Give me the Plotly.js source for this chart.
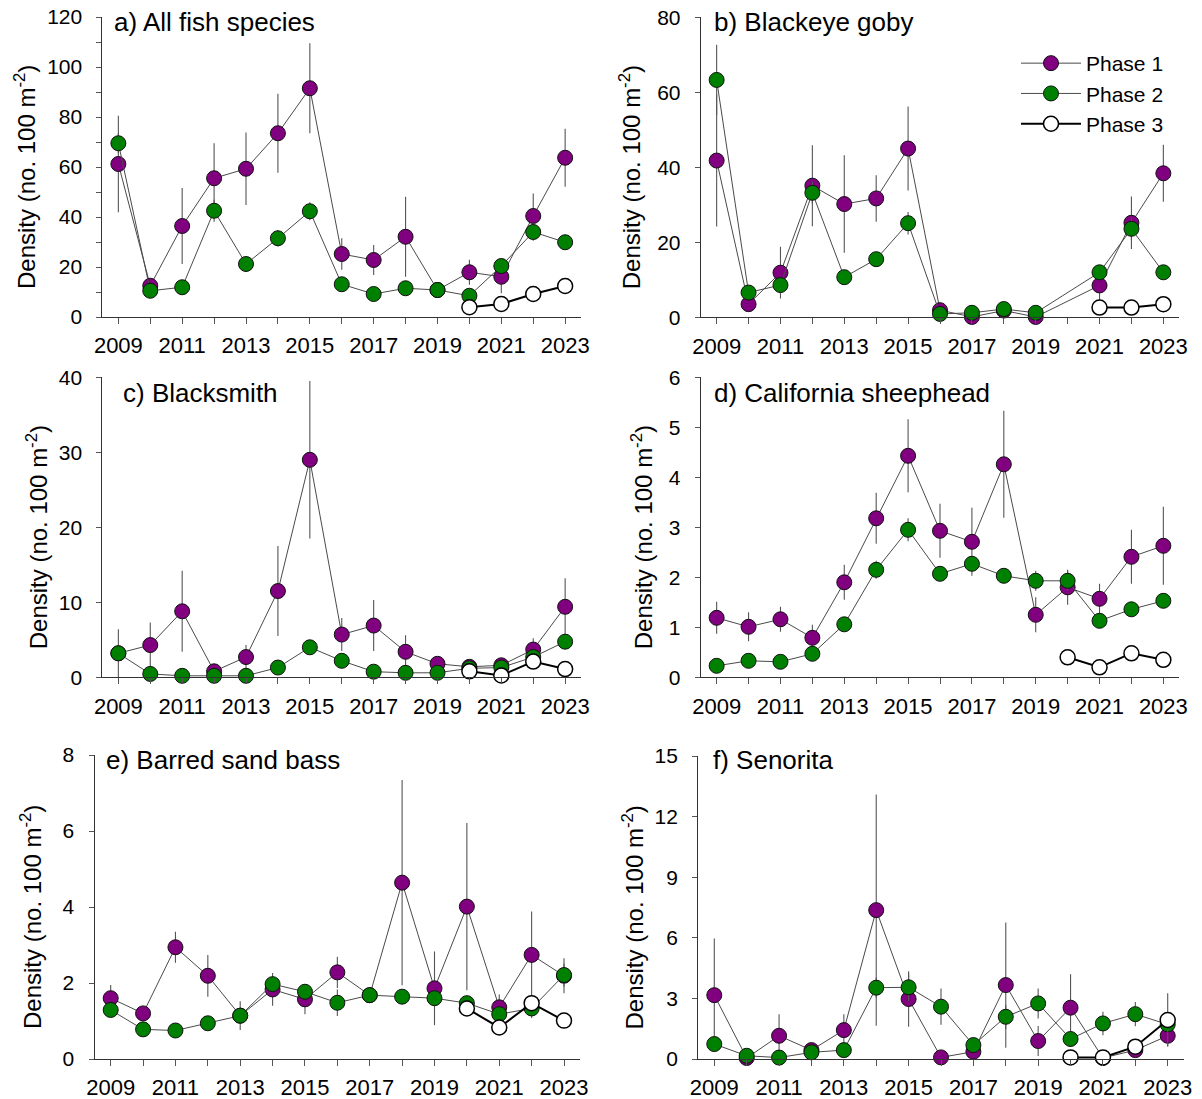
<!DOCTYPE html>
<html>
<head>
<meta charset="utf-8">
<script src="https://cdn.plot.ly/plotly-3.0.1.min.js"></script>
<style>
html,body{margin:0;padding:0;background:#fff;}
#chart{width:1202px;height:1099px;}
</style>
</head>
<body>
<div id="chart"></div>
<script>
// ---------------- DATA ----------------
const years = [2009, 2010, 2011, 2012, 2013, 2014, 2015, 2016, 2017, 2018, 2019, 2020, 2021, 2022, 2023];
const phase3Years = [2020, 2021, 2022, 2023];
const phase3YearsGoby = [2021, 2022, 2023];
const seriesNames = ["Phase 1", "Phase 2", "Phase 3"];
const panelTitles = ["a) All fish species", "b) Blackeye goby", "c) Blacksmith", "d) California sheephead", "e) Barred sand bass", "f) Senorita"];

// a) All fish species
const allP1 = [61.2, 12.5, 36.4, 55.5, 59.3, 73.5, 91.5, 25.2, 22.8, 32.1, 10.8, 17.9, 16.1, 40.4, 63.7];
const allP1Se = [19.3, 1.5, 15.2, 14, 14.5, 15.8, 18, 6.3, 6, 16, 1.2, 5, 6.6, 9, 11.6];
const allP2 = [69.5, 10.5, 11.9, 42.5, 21.2, 31.5, 42.3, 13.1, 9.2, 11.5, 10.8, 8.5, 20.4, 34.0, 29.9];
const allP2Se = [4, 1, 1, 4.4, 2, 3.3, 3.6, 1.5, 1, 1, 1, 1, 2, 3.5, 3];
const allP3 = [3.9, 5.2, 9.2, 12.4];
const allP3Se = [0.8, 0.8, 0.8, 1];

// b) Blackeye goby (no 2020 survey)
const gobyP1 = [41.8, 3.5, 11.9, 35.1, 30.2, 31.7, 45.0, 1.9, 0.1, 1.8, 0.1, null, 8.5, 25.2, 38.4];
const gobyP1Se = [17.6, 1, 6.9, 10.8, 13, 6.2, 11.2, 0.5, 0.1, 0.5, 0.1, null, 4.7, 7, 7.6];
const gobyP2 = [63.3, 6.6, 8.6, 33.2, 10.7, 15.5, 25.1, 0.9, 1.2, 2.2, 1.2, null, 12, 23.6, 12];
const gobyP2Se = [9.4, 1, 2, 3, 1.5, 1.5, 3, 0.5, 0.5, 0.5, 0.5, null, 1.5, 3, 1.5];
const gobyP3 = [2.6, 2.6, 3.5];
const gobyP3Se = [0.5, 0.5, 0.5];

// c) Blacksmith
const smithP1 = [3.2, 4.3, 8.8, 0.8, 2.7, 11.5, 29.0, 5.7, 6.9, 3.4, 1.8, 1.4, 1.6, 3.7, 9.4];
const smithP1Se = [3.2, 3, 5.4, 0.5, 1.6, 6, 10.5, 2.2, 3.4, 2.2, 0.5, 0.3, 0.3, 1.5, 3.8];
const smithP2 = [3.2, 0.45, 0.2, 0.2, 0.2, 1.3, 4.0, 2.2, 0.75, 0.6, 0.6, 1.2, 1.3, 2.7, 4.75];
const smithP2Se = [1, 0.2, 0.1, 0.1, 0.1, 0.3, 0.5, 0.4, 0.2, 0.2, 0.2, 0.2, 0.2, 0.5, 1];
const smithP3 = [0.8, 0.25, 2.1, 1.1];
const smithP3Se = [0.2, 0.1, 0.3, 0.2];

// d) California sheephead
const sheepP1 = [1.19, 1.01, 1.16, 0.79, 1.9, 3.18, 4.43, 2.93, 2.71, 4.26, 1.25, 1.8, 1.57, 2.41, 2.63];
const sheepP1Se = [0.32, 0.29, 0.25, 0.26, 0.35, 0.51, 0.73, 0.54, 0.68, 1.07, 0.35, 0.35, 0.3, 0.54, 0.78];
const sheepP2 = [0.23, 0.33, 0.31, 0.47, 1.06, 2.15, 2.95, 2.07, 2.27, 2.03, 1.93, 1.93, 1.13, 1.36, 1.53];
const sheepP2Se = [0.05, 0.05, 0.05, 0.08, 0.1, 0.18, 0.23, 0.1, 0.15, 0.15, 0.2, 0.2, 0.1, 0.15, 0.1];
const sheepP3 = [0.4, 0.2, 0.48, 0.35];
const sheepP3Se = [0.05, 0.05, 0.05, 0.05];

// e) Barred sand bass
const bassP1 = [1.6, 1.2, 2.94, 2.19, 1.14, 1.83, 1.57, 2.28, 1.68, 4.64, 1.86, 4.01, 1.36, 2.74, 2.19];
const bassP1Se = [0.35, 0.1, 0.41, 0.55, 0.38, 0.43, 0.39, 0.41, 0.15, 2.7, 0.97, 2.2, 0.34, 1.14, 0.46];
const bassP2 = [1.29, 0.78, 0.75, 0.94, 1.14, 1.97, 1.77, 1.48, 1.68, 1.64, 1.6, 1.47, 1.18, 1.33, 2.21];
const bassP2Se = [0.1, 0.05, 0.05, 0.1, 0.15, 0.2, 0.15, 0.35, 0.1, 0.1, 0.1, 0.1, 0.15, 0.25, 0.3];
const bassP3 = [1.33, 0.83, 1.47, 1.01];
const bassP3Se = [0.1, 0.1, 0.2, 0.05];

// f) Senorita
const senP1 = [3.16, 0.05, 1.15, 0.44, 1.43, 7.37, 2.97, 0.08, 0.36, 3.66, 0.89, 2.54, 0.05, 0.44, 1.15];
const senP1Se = [2.8, 0.05, 1.06, 0.2, 0.78, 5.72, 1.37, 0.05, 0.2, 3.1, 0.74, 1.66, 0.05, 0.2, 0.5];
const senP2 = [0.74, 0.16, 0.07, 0.33, 0.44, 3.53, 3.55, 2.59, 0.69, 2.09, 2.75, 0.99, 1.76, 2.22, 1.71];
const senP2Se = [0.3, 0.1, 0.05, 0.1, 0.3, 0.5, 0.7, 0.9, 0.2, 0.6, 0.74, 0.4, 0.58, 0.6, 0.3];
const senP3 = [0.08, 0.08, 0.61, 1.93];
const senP3Se = [0.05, 0.05, 0.2, 1.32];

// y-axis scales per panel
const yMax = [120, 80, 40, 6, 8, 15];
const yDtick = [20, 20, 10, 1, 2, 3];
const yMinor = [10, null, null, null, null, null];

// ---------------- BUILD ----------------
const panels = [
  {p1: allP1, s1: allP1Se, p2: allP2, s2: allP2Se, p3x: phase3Years, p3: allP3, s3: allP3Se},
  {p1: gobyP1, s1: gobyP1Se, p2: gobyP2, s2: gobyP2Se, p3x: phase3YearsGoby, p3: gobyP3, s3: gobyP3Se},
  {p1: smithP1, s1: smithP1Se, p2: smithP2, s2: smithP2Se, p3x: phase3Years, p3: smithP3, s3: smithP3Se},
  {p1: sheepP1, s1: sheepP1Se, p2: sheepP2, s2: sheepP2Se, p3x: phase3Years, p3: sheepP3, s3: sheepP3Se},
  {p1: bassP1, s1: bassP1Se, p2: bassP2, s2: bassP2Se, p3x: phase3Years, p3: bassP3, s3: bassP3Se},
  {p1: senP1, s1: senP1Se, p2: senP2, s2: senP2Se, p3x: phase3Years, p3: senP3, s3: senP3Se}
];

const W = 1202, H = 1099;
// pixel boxes of plotting areas: [left, right, top, bottom]
const boxes = [
  [102.4, 581.1, 17, 317],
  [700.7, 1179.3, 17.3, 317.3],
  [102.4, 581.1, 377.3, 677.3],
  [700.7, 1179.3, 377.3, 677.3],
  [94.5, 580.2, 755, 1059],
  [698.1, 1183.9, 756, 1059]
];
const titlePos = [[112, 22], [712, 22], [121, 393], [712, 393], [104, 760], [711, 760]];
const yTitleX = [25, 630, 37, 642, 31, 632];

const FONT = "Liberation Sans, Arial, Helvetica, sans-serif";
const purple = "#800080", green = "#008000";
const errStyle = {type: "data", visible: true, color: "#555", thickness: 1.1, width: 0};

const data = [];
const layout = {
  width: W, height: H,
  margin: {l: 0, r: 0, t: 0, b: 0},
  paper_bgcolor: "#fff", plot_bgcolor: "rgba(0,0,0,0)",
  font: {family: FONT, color: "#000", size: 20},
  showlegend: true,
  legend: {
    x: 1016 / W, y: 1 - 43 / H, xanchor: "left", yanchor: "top",
    bgcolor: "rgba(0,0,0,0)", font: {size: 21, family: FONT},
    tracegroupgap: 0, itemwidth: 60
  },
  annotations: []
};

panels.forEach((p, i) => {
  const n = i + 1;
  const xa = n === 1 ? "x" : "x" + n;
  const ya = n === 1 ? "y" : "y" + n;
  const show = i === 1;
  data.push({
    x: years, y: p.p1, xaxis: xa, yaxis: ya, type: "scatter", mode: "lines+markers",
    name: seriesNames[0], legendgroup: "p1", showlegend: show, connectgaps: true, cliponaxis: false,
    line: {color: "#4a4a4a", width: 1},
    marker: {color: purple, size: 15, line: {color: "#111", width: 1}},
    error_y: Object.assign({array: p.s1}, errStyle)
  });
  data.push({
    x: years, y: p.p2, xaxis: xa, yaxis: ya, type: "scatter", mode: "lines+markers",
    name: seriesNames[1], legendgroup: "p2", showlegend: show, connectgaps: true, cliponaxis: false,
    line: {color: "#4a4a4a", width: 1},
    marker: {color: green, size: 15, line: {color: "#111", width: 1}},
    error_y: Object.assign({array: p.s2}, errStyle)
  });
  data.push({
    x: p.p3x, y: p.p3, xaxis: xa, yaxis: ya, type: "scatter", mode: "lines+markers",
    name: seriesNames[2], legendgroup: "p3", showlegend: show, cliponaxis: false,
    line: {color: "#000", width: 2},
    marker: {color: "#fff", size: 15, line: {color: "#000", width: 1.5}},
    error_y: Object.assign({array: p.s3}, errStyle)
  });

  const b = boxes[i];
  const xKey = n === 1 ? "xaxis" : "xaxis" + n;
  const yKey = n === 1 ? "yaxis" : "yaxis" + n;
  layout[xKey] = {
    domain: [b[0] / W, b[1] / W], anchor: ya,
    range: [2008.5, 2023.5], tick0: 2009, dtick: 2,
    showgrid: false, zeroline: false, showline: true, linecolor: "#333", linewidth: 1,
    ticks: "outside", ticklen: 6, tickcolor: "#555", tickwidth: 1,
    minor: {dtick: 1, tick0: 2009, ticks: "outside", ticklen: 6, tickcolor: "#555", showgrid: false},
    tickfont: {size: 22, family: FONT, color: "#000"}, ticklabelstandoff: 3,
    fixedrange: true
  };
  const yax = {
    domain: [(H - b[3]) / H, (H - b[2]) / H], anchor: xa,
    range: [0, yMax[i]], tick0: 0, dtick: yDtick[i],
    showgrid: false, zeroline: false, showline: true, linecolor: "#333", linewidth: 1,
    ticks: "outside", ticklen: 5, tickcolor: "#555", tickwidth: 1,
    tickfont: {size: 21, family: FONT, color: "#000"}, ticklabelstandoff: 10,
    fixedrange: true
  };
  if (yMinor[i]) yax.minor = {dtick: yMinor[i], ticks: "outside", ticklen: 5, tickcolor: "#555", showgrid: false};
  layout[yKey] = yax;

  layout.annotations.push({
    text: panelTitles[i], xref: "paper", yref: "paper",
    x: titlePos[i][0] / W, y: 1 - titlePos[i][1] / H, xanchor: "left", yanchor: "middle",
    showarrow: false, font: {size: 26, family: FONT, color: "#000"}
  });
  layout.annotations.push({
    text: "Density (no. 100 m<sup>-2</sup>)", xref: "paper", yref: "paper", textangle: -90,
    x: yTitleX[i] / W, y: 1 - ((b[2] + b[3]) / 2 + 10) / H, xanchor: "center", yanchor: "middle",
    showarrow: false, font: {size: 24, family: FONT, color: "#000"}
  });
});

Plotly.newPlot("chart", data, layout, {staticPlot: true, displayModeBar: false});
</script>
</body>
</html>
